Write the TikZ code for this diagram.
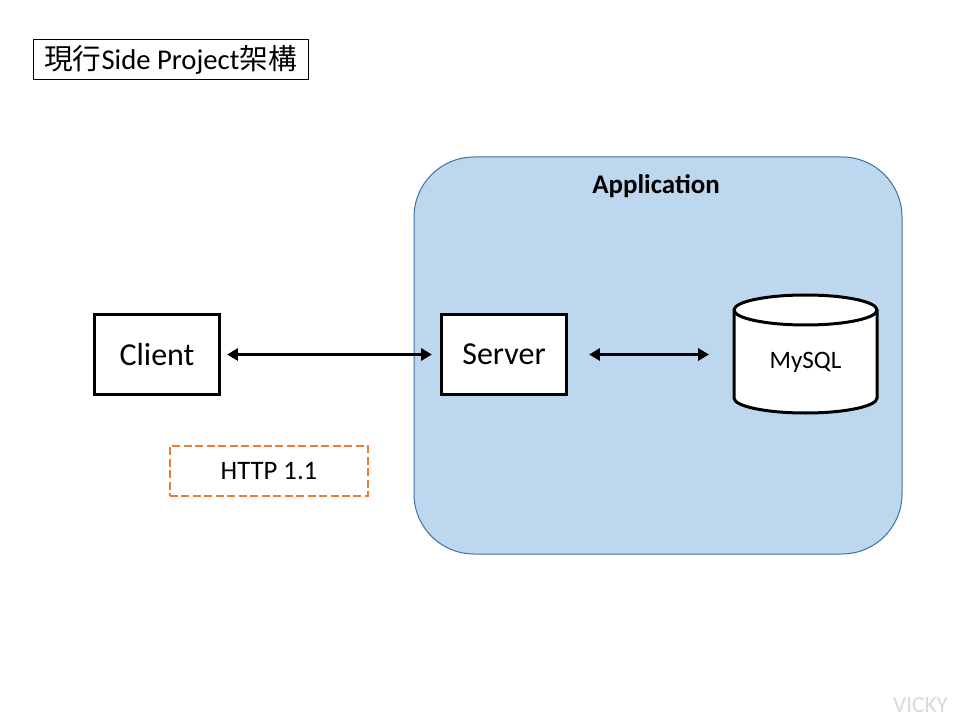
\documentclass[tikz,border=0pt]{standalone}
\usepackage{fontspec}
\setmainfont{Carlito}
\newfontfamily\cjk{Noto Sans CJK TC}
\usetikzlibrary{arrows.meta}
\definecolor{appfill}{HTML}{BDD7EE}
\definecolor{appline}{HTML}{41719C}
\definecolor{httporange}{HTML}{ED7D31}
\definecolor{marklight}{HTML}{D9D9D9}
\begin{document}
\begin{tikzpicture}[x=0.75pt,y=-0.75pt,
  titlebox/.style={draw, line width=0.75pt, minimum width=206.25pt, minimum height=30pt, inner sep=0pt, font=\fontsize{21.5}{24}\selectfont},
  appbox/.style={draw=appline, fill=appfill, line width=0.75pt, rounded corners=45pt, minimum width=366pt, minimum height=297.75pt, inner sep=0pt},
  block/.style={draw, fill=white, line width=2.25pt, minimum width=94pt, minimum height=60.5pt, inner sep=0pt, font=\fontsize{24}{28}\selectfont},
  dbtext/.style={minimum width=107pt, minimum height=88pt, inner sep=0pt, font=\fontsize{18.8}{22}\selectfont},
  proto/.style={draw=httporange, line width=1.9pt, dash pattern=on 6pt off 2.6pt, minimum width=148.5pt, minimum height=37.5pt, inner sep=0pt, font=\fontsize{20}{24}\selectfont},
  link/.style={line width=2.25pt, {Triangle[length=8pt,width=9pt]}-{Triangle[length=8pt,width=9pt]}}
]
\useasboundingbox (0,0) rectangle (960,720);
\fill[white] (0,0) rectangle (960,720);

% heading
\node[titlebox] (title) at (170.5,60) {{\cjk 現行}Side Project{\cjk 架構}};

% application container
\node[appbox] (app) at (658,355.5) {};
\node[font=\fontsize{20.2}{24}\selectfont\bfseries] (applabel) at (656,186) {Application};

% client and server
\node[block] (client) at (157,354.5) {Client};
\node[block] (server) at (504,354.5) {Server};

% database cylinder (y axis points down, so angle 90 is the lower side)
\draw[fill=white, line width=2.25pt]
  (734,310) -- (734,398) arc[start angle=180, end angle=0, x radius=71.5, y radius=15]
  -- (877,310) arc[start angle=0, end angle=-180, x radius=71.5, y radius=15] -- cycle;
\draw[line width=2.25pt] (734,310) arc[start angle=180, end angle=0, x radius=71.5, y radius=15];
\node[dbtext] (db) at (805.5,362) {MySQL};

% protocol label
\node[proto] (http) at (269,471) {HTTP 1.1};

% connections
\draw[link, shorten <=4.5pt, shorten >=6pt] (client.east) -- (server.west);
\draw[link, shorten <=15.75pt, shorten >=18.75pt] (server.east) -- (db.west |- server.east);

% watermark
\node[text=marklight, font=\fontsize{17.4}{20}\selectfont] (mark) at (920.5,705.5) {VICKY};
\end{tikzpicture}
\end{document}
